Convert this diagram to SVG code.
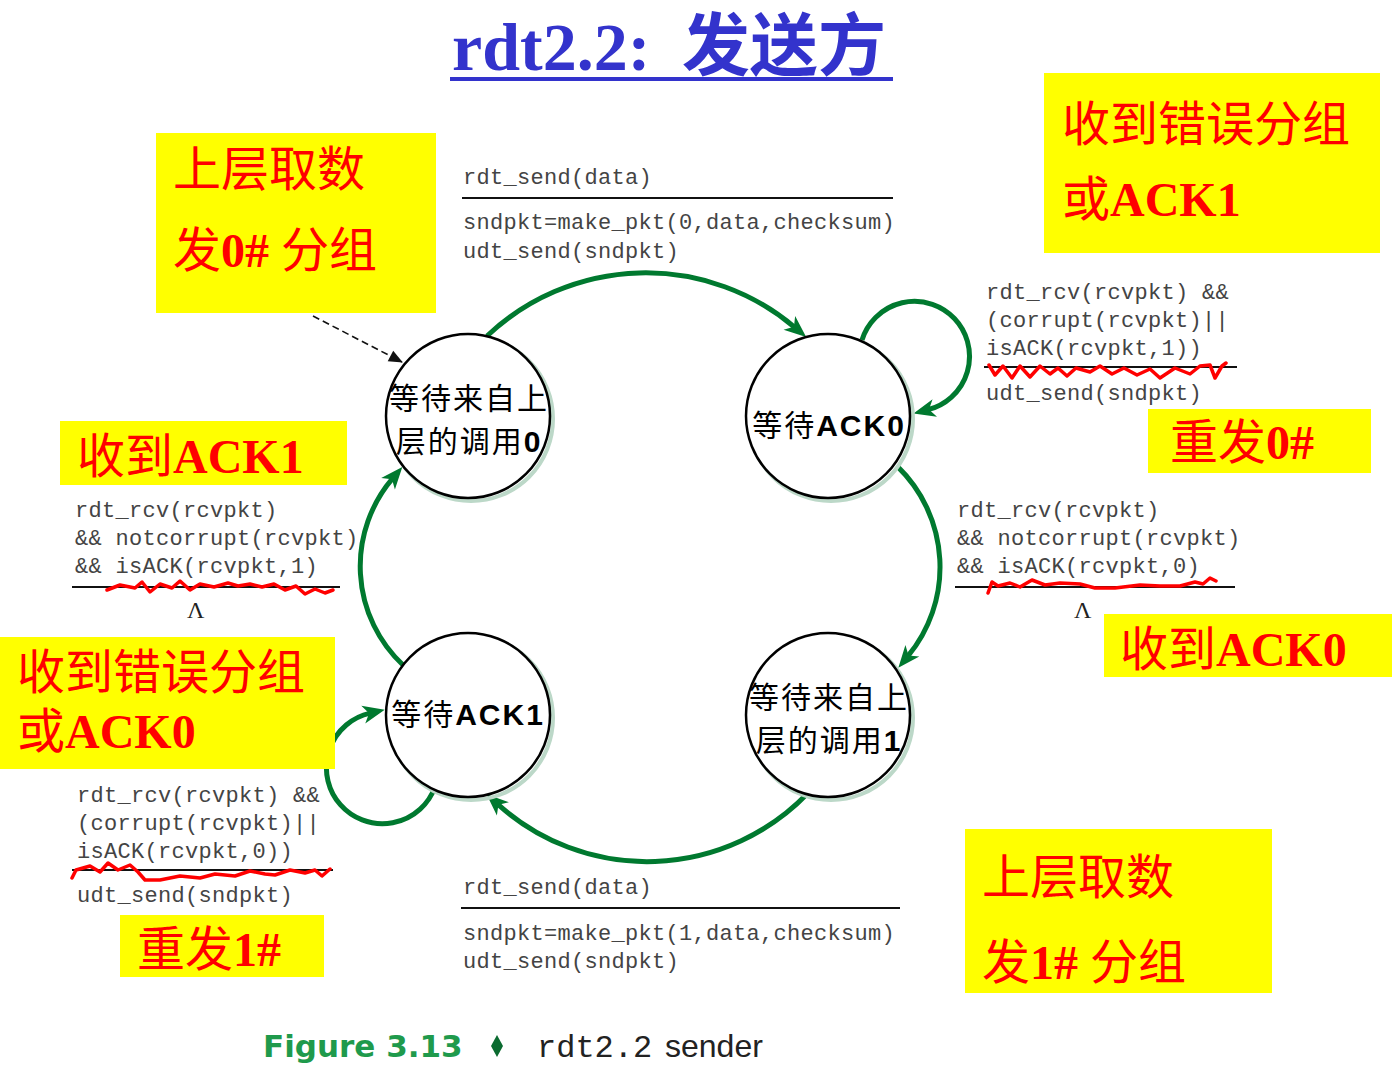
<svg xmlns="http://www.w3.org/2000/svg" width="1392" height="1065" viewBox="0 0 1392 1065">
  <style>
    .title { font-family: "Liberation Serif", "Noto Sans CJK SC", serif; font-weight: bold; fill: #3333cc; }
    .code { font-family: "Liberation Mono", "DejaVu Sans Mono", monospace; font-size: 22px; letter-spacing: 0.3px; fill: #444; }
    .lam { font-family: "Liberation Serif", serif; font-size: 24px; fill: #222; }
    .rule { stroke: #111; stroke-width: 2; }
    .squig { fill: none; stroke: #ff0000; stroke-width: 3.5; stroke-linejoin: round; stroke-linecap: round; }
    .note { fill: #ffff00; }
    .ntext { font-family: "Liberation Serif", "Noto Sans CJK SC", serif; font-size: 48px; fill: #ff0000; }
    .b { font-weight: bold; }
    .state { fill: #fff; stroke: #000; stroke-width: 2.5; }
    .halo { fill: none; stroke: #bcd8c8; stroke-width: 4; }
    .stext { font-family: "Noto Sans CJK SC", sans-serif; font-size: 30px; letter-spacing: 2px; fill: #000; }
    .snum { font-family: "Liberation Sans", "DejaVu Sans", sans-serif; font-weight: bold; }
    .edge { fill: none; stroke: #00792f; stroke-width: 5; marker-end: url(#ah); }
    .cap { font-size: 32px; }
  </style>
  <defs>
    <marker id="ah" markerUnits="userSpaceOnUse" markerWidth="22" markerHeight="18" viewBox="0 0 22 18" refX="7" refY="9" orient="auto" overflow="visible">
      <path d="M0,0 L22,9 L0,18 L6,9 z" fill="#00792f"/>
    </marker>
    <marker id="ahk" markerUnits="userSpaceOnUse" markerWidth="14" markerHeight="12" viewBox="0 0 14 12" refX="13" refY="6" orient="auto" overflow="visible">
      <path d="M0,0 L14,6 L0,12 z" fill="#111"/>
    </marker>
  </defs>

  <rect width="1392" height="1065" fill="#fff"/>

  <!-- title -->
  <g id="title">
    <text class="title" x="452" y="70" font-size="68">rdt2.2:</text>
    <text class="title" x="682" y="70" font-size="68">发送方</text>
    <rect x="450" y="77" width="443" height="4" fill="#3333cc"/>
  </g>

  <!-- transitions -->
  <g id="connectors">
    <path class="edge" d="M487,336 A231,231 0 0 1 794.7,327.3"/>
    <path class="edge" d="M897.4,466.4 A140,140 0 0 1 907.9,656.2"/>
    <path class="edge" d="M808,793 A223,223 0 0 1 497.7,804.2"/>
    <path class="edge" d="M403,665 A135.4,135.4 0 0 1 392.6,478.4"/>
    <path class="edge" d="M862,340 A55,55 0 1 1 928,409.7"/>
    <path class="edge" d="M435,787 A56,56 0 1 1 370.1,713.1"/>
    <path d="M313,316 L402,362" fill="none" stroke="#111" stroke-width="1.6" stroke-dasharray="7,4" marker-end="url(#ahk)"/>
  </g>

  <!-- states -->
  <g id="wait-call-0">
    <circle class="halo" cx="471" cy="419" r="82"/>
    <circle class="state" cx="468" cy="416" r="82"/>
    <text class="stext" x="469" y="409" text-anchor="middle">等待来自上</text>
    <text class="stext" x="469" y="452" text-anchor="middle">层的调用<tspan class="snum">0</tspan></text>
  </g>
  <g id="wait-ack-0">
    <circle class="halo" cx="831" cy="419" r="82"/>
    <circle class="state" cx="828" cy="416" r="82"/>
    <text class="stext" x="829" y="436" text-anchor="middle">等待<tspan class="snum">ACK0</tspan></text>
  </g>
  <g id="wait-ack-1">
    <circle class="halo" cx="471" cy="718" r="82"/>
    <circle class="state" cx="468" cy="715" r="82"/>
    <text class="stext" x="468" y="725" text-anchor="middle">等待<tspan class="snum">ACK1</tspan></text>
  </g>
  <g id="wait-call-1">
    <circle class="halo" cx="831" cy="718" r="82"/>
    <circle class="state" cx="828" cy="715" r="82"/>
    <text class="stext" x="829" y="708" text-anchor="middle">等待来自上</text>
    <text class="stext" x="829" y="751" text-anchor="middle">层的调用<tspan class="snum">1</tspan></text>
  </g>

  <!-- transition labels -->
  <g id="label-send-0">
    <text class="code" x="463" y="184">rdt_send(data)</text>
    <line class="rule" x1="462" y1="198" x2="893" y2="198"/>
    <text class="code" x="463" y="229">sndpkt=make_pkt(0,data,checksum)</text>
    <text class="code" x="463" y="258">udt_send(sndpkt)</text>
  </g>
  <g id="label-resend-0">
    <text class="code" x="986" y="299">rdt_rcv(rcvpkt) &amp;&amp;</text>
    <text class="code" x="986" y="327">(corrupt(rcvpkt)||</text>
    <text class="code" x="986" y="355">isACK(rcvpkt,1))</text>
    <line class="rule" x1="984" y1="367" x2="1237" y2="367"/>
    <path class="squig" d="M989,365 L995,375 L1003,366 L1012,378 L1020,366 L1030,377 L1040,366 L1050,374 L1058,368 L1067,376 L1076,368 L1090,372 L1100,366 L1112,374 L1124,368 L1137,375 L1150,369 L1160,378 L1175,368 L1190,374 L1200,366 L1210,365 L1215,378 L1222,366 L1226,363"/>
    <text class="code" x="986" y="400">udt_send(sndpkt)</text>
  </g>
  <g id="label-ack-1">
    <text class="code" x="75" y="517">rdt_rcv(rcvpkt)</text>
    <text class="code" x="75" y="545">&amp;&amp; notcorrupt(rcvpkt)</text>
    <text class="code" x="75" y="573">&amp;&amp; isACK(rcvpkt,1)</text>
    <line class="rule" x1="72" y1="587" x2="340" y2="587"/>
    <path class="squig" d="M107,590 L120,585 L135,588 L142,582 L150,592 L160,584 L172,588 L180,581 L190,590 L200,584 L214,587 L228,583 L238,586 L250,584 L262,587 L274,584 L285,590 L296,586 L305,594 L315,589 L325,593 L333,590"/>
    <text class="lam" x="187" y="618">Λ</text>
  </g>
  <g id="label-ack-0">
    <text class="code" x="957" y="517">rdt_rcv(rcvpkt)</text>
    <text class="code" x="957" y="545">&amp;&amp; notcorrupt(rcvpkt)</text>
    <text class="code" x="957" y="573">&amp;&amp; isACK(rcvpkt,0)</text>
    <line class="rule" x1="955" y1="587" x2="1235" y2="587"/>
    <path class="squig" d="M988,593 L992,582 L998,586 L1010,583 L1020,587 L1032,580 L1045,585 L1060,583 L1080,584 L1095,588 L1115,588 L1140,585 L1160,586 L1180,586 L1195,582 L1203,584 L1210,578 L1216,581"/>
    <text class="lam" x="1074" y="618">Λ</text>
  </g>
  <g id="label-resend-1">
    <text class="code" x="77" y="802">rdt_rcv(rcvpkt) &amp;&amp;</text>
    <text class="code" x="77" y="830">(corrupt(rcvpkt)||</text>
    <text class="code" x="77" y="858">isACK(rcvpkt,0))</text>
    <line class="rule" x1="72" y1="870" x2="333" y2="870"/>
    <path class="squig" d="M72,878 L76,870 L90,866 L100,872 L108,863 L118,870 L130,865 L138,872 L145,880 L160,880 L180,876 L200,878 L215,874 L235,876 L250,871 L265,874 L275,875 L290,870 L305,873 L315,870 L322,876 L330,869"/>
    <text class="code" x="77" y="902">udt_send(sndpkt)</text>
  </g>
  <g id="label-send-1">
    <text class="code" x="463" y="894">rdt_send(data)</text>
    <line class="rule" x1="461" y1="908" x2="900" y2="908"/>
    <text class="code" x="463" y="940">sndpkt=make_pkt(1,data,checksum)</text>
    <text class="code" x="463" y="968">udt_send(sndpkt)</text>
  </g>

  <!-- callout notes -->
  <g id="note-send-0">
    <rect class="note" x="156" y="133" width="280" height="180"/>
    <text class="ntext" x="173" y="186">上层取数</text>
    <text class="ntext" x="173" y="267">发<tspan class="b">0#</tspan> 分组</text>
  </g>
  <g id="note-err-0">
    <rect class="note" x="1044" y="73" width="336" height="180"/>
    <text class="ntext" x="1062" y="141">收到错误分组</text>
    <text class="ntext" x="1062" y="216">或<tspan class="b">ACK1</tspan></text>
  </g>
  <g id="note-ack-1">
    <rect class="note" x="60" y="421" width="287" height="64"/>
    <text class="ntext" x="77" y="473">收到<tspan class="b">ACK1</tspan></text>
  </g>
  <g id="note-err-1">
    <rect class="note" x="0" y="637" width="335" height="132"/>
    <text class="ntext" x="17" y="689">收到错误分组</text>
    <text class="ntext" x="17" y="748">或<tspan class="b">ACK0</tspan></text>
  </g>
  <g id="note-resend-0">
    <rect class="note" x="1148" y="409" width="223" height="64"/>
    <text class="ntext" x="1170" y="459">重发<tspan class="b">0#</tspan></text>
  </g>
  <g id="note-ack-0">
    <rect class="note" x="1104" y="614" width="288" height="63"/>
    <text class="ntext" x="1120" y="666">收到<tspan class="b">ACK0</tspan></text>
  </g>
  <g id="note-resend-1">
    <rect class="note" x="120" y="915" width="204" height="62"/>
    <text class="ntext" x="137" y="966">重发<tspan class="b">1#</tspan></text>
  </g>
  <g id="note-send-1">
    <rect class="note" x="965" y="829" width="307" height="164"/>
    <text class="ntext" x="982" y="894">上层取数</text>
    <text class="ntext" x="982" y="979">发<tspan class="b">1#</tspan> 分组</text>
  </g>

  <!-- caption -->
  <g id="caption">
    <text x="263" y="1057" font-family="DejaVu Sans, sans-serif" font-weight="bold" font-size="31" fill="#1f9a4c">Figure 3.13</text>
    <path d="M497,1035 L503,1046 L497,1057 L491,1046 z" fill="#0b6b30"/>
    <text x="537" y="1057" font-family="Liberation Mono, monospace" class="cap" fill="#222">rdt2.2</text>
    <text x="665" y="1057" font-family="Liberation Sans, sans-serif" class="cap" fill="#222">sender</text>
  </g>
</svg>
